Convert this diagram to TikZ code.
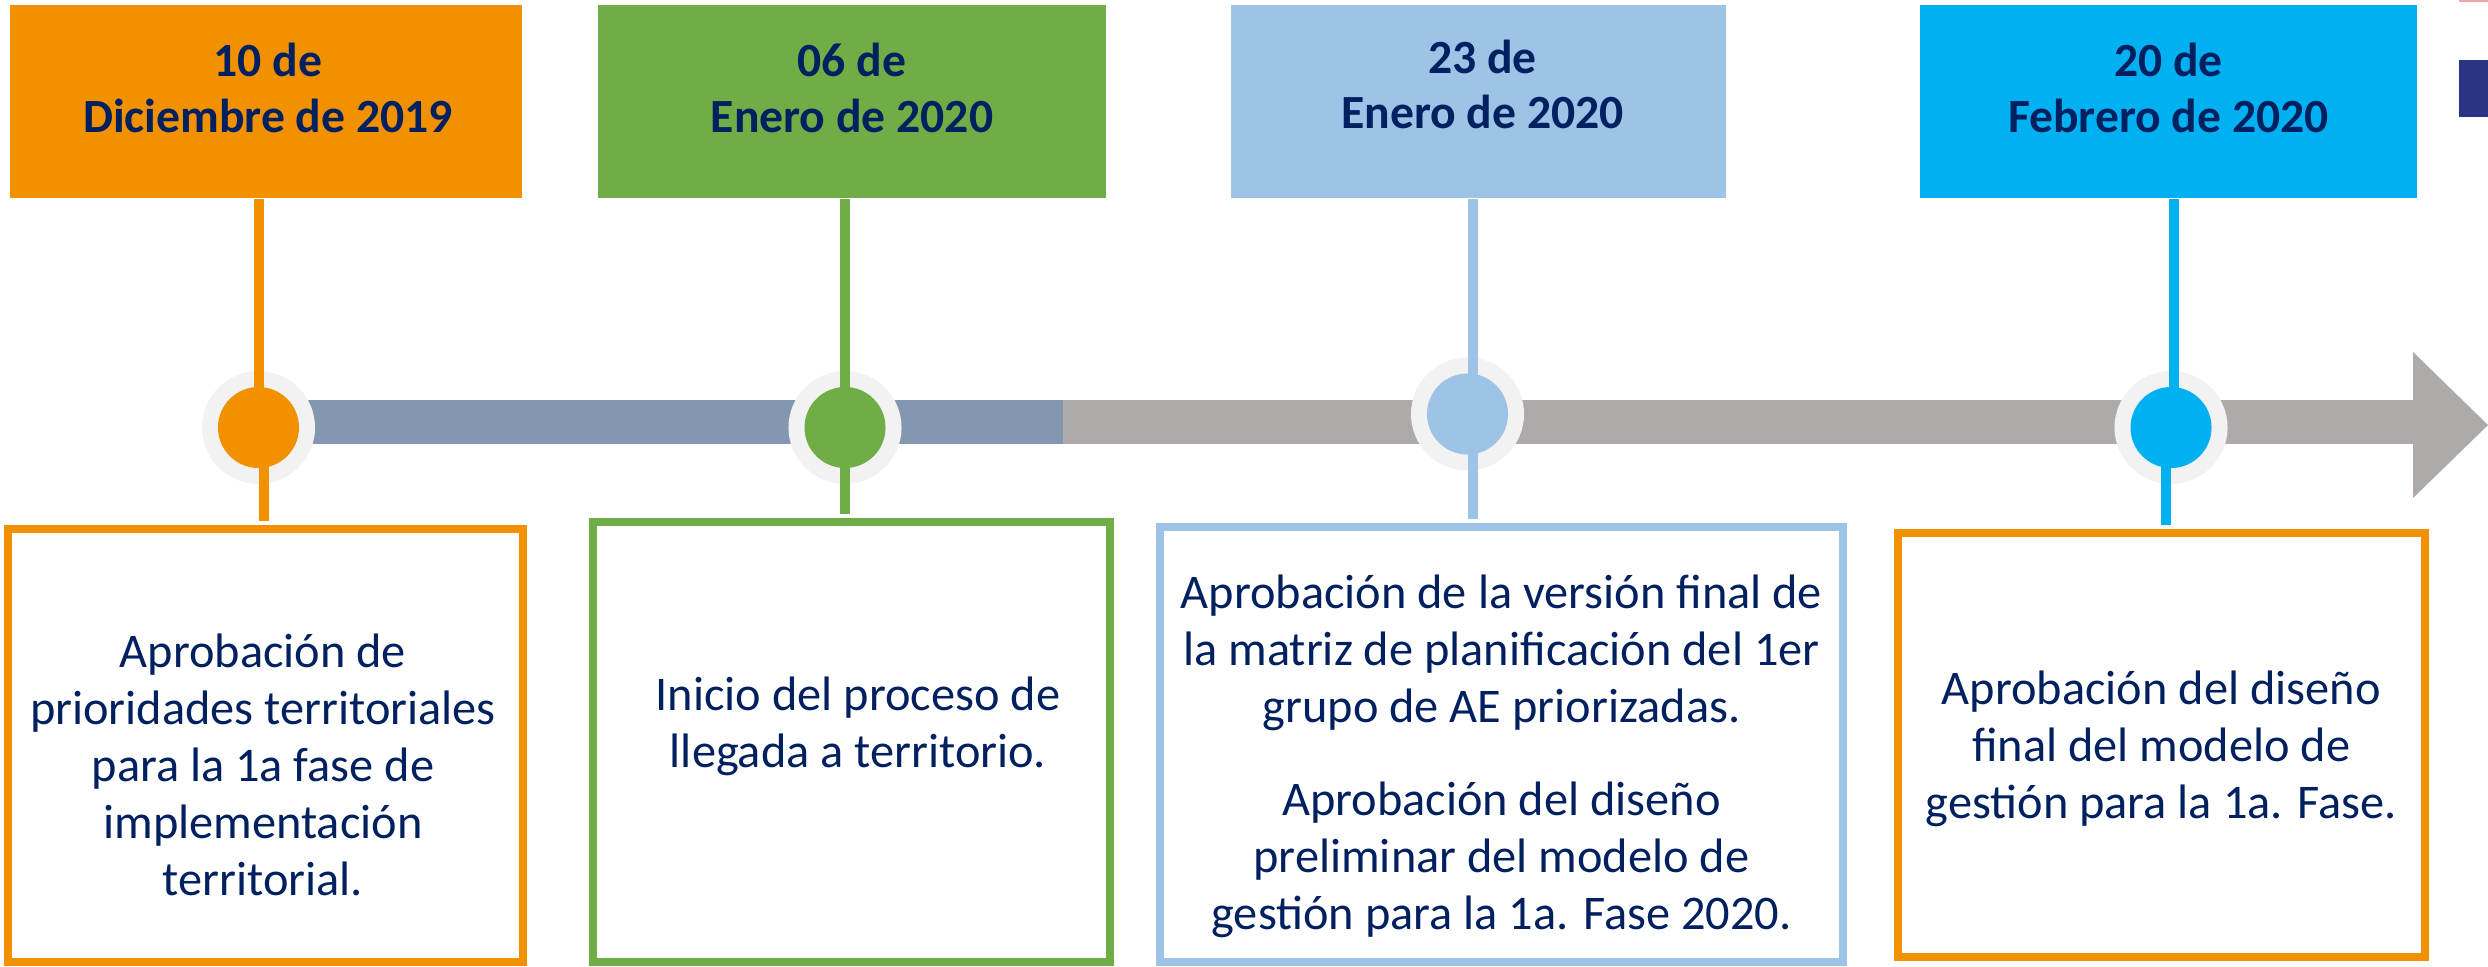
\documentclass[tikz,border=0pt]{standalone}
\usepackage{fontspec}
\setmainfont{Carlito}
\usetikzlibrary{calc}

\definecolor{naranja}{HTML}{F29100}
\definecolor{verde}{HTML}{70AD47}
\definecolor{celeste}{HTML}{9DC3E6}
\definecolor{cian}{HTML}{00B0F0}
\definecolor{azul}{HTML}{002060}
\definecolor{barraazul}{HTML}{8497B0}
\definecolor{barragris}{HTML}{AEAAAA}
\definecolor{anillo}{HTML}{F2F2F2}
\definecolor{marino}{HTML}{2B3483}
\definecolor{rosa}{HTML}{F4A6A6}

\begin{document}
\begin{tikzpicture}[x=0.01cm, y=-0.01cm,
    fecha/.style={fill=#1, minimum height=1.93cm, inner sep=0pt},
    fechatxt/.style={text=azul, align=center, font=\fontsize{13.55}{15.8}\selectfont\bfseries},
    caja/.style={draw=#1, fill=white, line width=0.08cm, inner sep=0pt},
    cajatxt/.style={text=azul, align=center, font=\fontsize{13.75}{16.2}\selectfont},
    aro/.style={circle, fill=anillo, minimum size=1.13cm, inner sep=0pt},
    punto/.style={circle, fill=#1, minimum size=0.81cm, inner sep=0pt},
    tallo/.style={draw=#1, line width=0.1cm}]
  \useasboundingbox (0,0) rectangle (2488,966);

  % linea de tiempo
  \fill[barraazul] (258,400) rectangle (1063,444);
  \fill[barragris] (1063,400) rectangle (2413,444);
  \fill[barragris] (2413,352) -- (2488,425) -- (2413,498) -- cycle;

  \fill[rosa] (2459,0) rectangle (2488,2);
  \fill[marino] (2459,60) rectangle (2488,117);

  % fechas
  \node[fecha=naranja, minimum width=5.12cm] (f1) at (266,101.5) {};
  \node[fecha=verde, minimum width=5.08cm] (f2) at (852,101.5) {};
  \node[fecha=celeste, minimum width=4.95cm] (f3) at (1478.5,101.5) {};
  \node[fecha=cian, minimum width=4.97cm] (f4) at (2168.5,101.5) {};
  \node[fechatxt] at ($(f1.center)+(2,-13.5)$) {10 de\\Diciembre de 2019};
  \node[fechatxt] at ($(f2.center)+(0,-13.5)$) {06 de\\Enero de 2020};
  \node[fechatxt] at ($(f3.center)+(4,-17)$) {23 de\\Enero de 2020};
  \node[fechatxt] at ($(f4.center)+(0,-13.5)$) {20 de\\Febrero de 2020};

  % cajas
  \node[caja=naranja, minimum width=5.15cm, minimum height=4.33cm] (c1) at (265.5,745.5) {};
  \node[caja=verde, minimum width=5.17cm, minimum height=4.40cm] (c2) at (851.5,742) {};
  \node[caja=celeste, minimum width=6.83cm, minimum height=4.345cm] (c3) at (1501.5,744.75) {};
  \node[caja=naranja, minimum width=5.265cm, minimum height=4.235cm] (c4) at (2161.25,745.25) {};
  \node[cajatxt] at ($(c1.center)+(-2.5,19.5)$) {Aprobación de\\prioridades territoriales\\para la 1a fase de\\implementación\\territorial.};
  \node[cajatxt] at ($(c2.center)+(6.5,-16)$) {Inicio del proceso de\\llegada a territorio.};
  \node[cajatxt] at ($(c3.center)+(0,12)$) {Aprobación de la versión final de\\la matriz de planificación del 1er\\grupo de AE priorizadas.\\[0.36cm]Aprobación del diseño\\preliminar del modelo de\\gestión para la 1a. Fase 2020.};
  \node[cajatxt] at ($(c4.center)+(0,4)$) {Aprobación del diseño\\final del modelo de\\gestión para la 1a. Fase.};

  % hitos
  \node[aro] (a1) at (258.5,427.5) {};
  \node[aro] (a2) at (845,427.5) {};
  \node[aro] (a3) at (1467.5,414) {};
  \node[aro] (a4) at (2171,427.5) {};

  \draw[tallo=naranja] ($(f1.south -| a1)+(0.5,0)$) -- ($(a1)+(0.5,0)$);
  \draw[tallo=naranja] ($(a1)+(5.5,0)$) -- ($(c1.north -| a1)+(5.5,-4)$);
  \draw[tallo=verde] (f2.south -| a2) -- (a2.center);
  \draw[tallo=verde] (a2.center) -- ($(c2.north -| a2)+(0,-4)$);
  \draw[tallo=celeste] ($(f3.south -| a3)+(5.5,0)$) -- ($(a3)+(5.5,0)$);
  \draw[tallo=celeste] ($(a3)+(5.5,0)$) -- ($(c3.north -| a3)+(5.5,-4)$);
  \draw[tallo=cian] ($(f4.south -| a4)+(3,0)$) -- ($(a4)+(3,0)$);
  \draw[tallo=cian] ($(a4)+(-5,0)$) -- ($(c4.north -| a4)+(-5,-4)$);

  \node[punto=naranja] (p1) at (a1) {};
  \node[punto=verde] (p2) at (a2) {};
  \node[punto=celeste] (p3) at (a3) {};
  \node[punto=cian] (p4) at (a4) {};
\end{tikzpicture}
\end{document}
